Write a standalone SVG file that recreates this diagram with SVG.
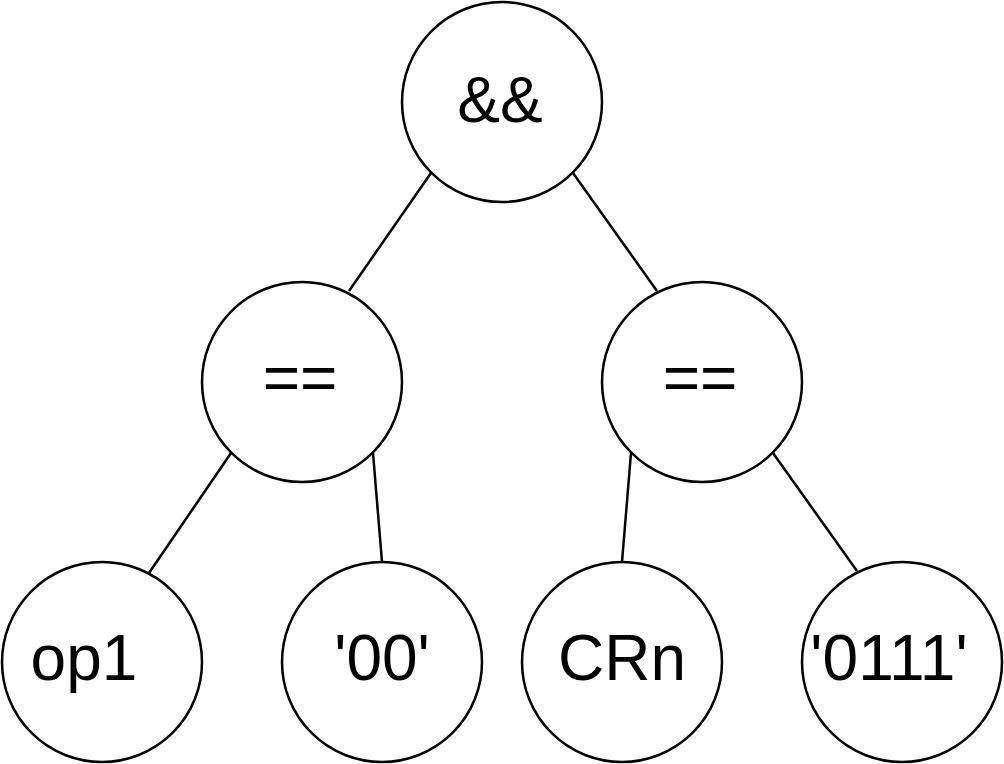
<svg xmlns="http://www.w3.org/2000/svg" width="1004" height="764" viewBox="0 0 1004 764">
<style>
circle{fill:#fff;stroke:#000;stroke-width:2.5}
line{stroke:#000;stroke-width:2.5}
text{font-family:"Liberation Sans",Arial,sans-serif;font-size:64px;text-anchor:middle;dominant-baseline:central;fill:#000}
</style>
<rect width="1004" height="764" fill="#fff"/>
<g id="connectors">
<line x1="431" y1="173" x2="349" y2="291"/>
<line x1="573" y1="173" x2="657" y2="291"/>
<line x1="231" y1="453" x2="149" y2="573"/>
<line x1="373" y1="453" x2="382" y2="562"/>
<line x1="631" y1="453" x2="622" y2="562"/>
<line x1="773" y1="453" x2="857" y2="571"/>
</g>
<g id="root"><circle cx="502" cy="102" r="100"/><text x="500" y="100">&amp;&amp;</text></g>
<g id="eqL"><circle cx="302" cy="382" r="100"/><text x="300" y="378">==</text></g>
<g id="eqR"><circle cx="702" cy="382" r="100"/><text x="700" y="378">==</text></g>
<g id="op1"><circle cx="102" cy="662" r="100"/><text x="84" y="658">op1</text></g>
<g id="c00"><circle cx="382" cy="662" r="100"/><text x="382" y="658">'00'</text></g>
<g id="crn"><circle cx="622" cy="662" r="100"/><text x="622" y="658">CRn</text></g>
<g id="c0111"><circle cx="902" cy="662" r="100"/><text x="889" y="658">'0111'</text></g>
</svg>
